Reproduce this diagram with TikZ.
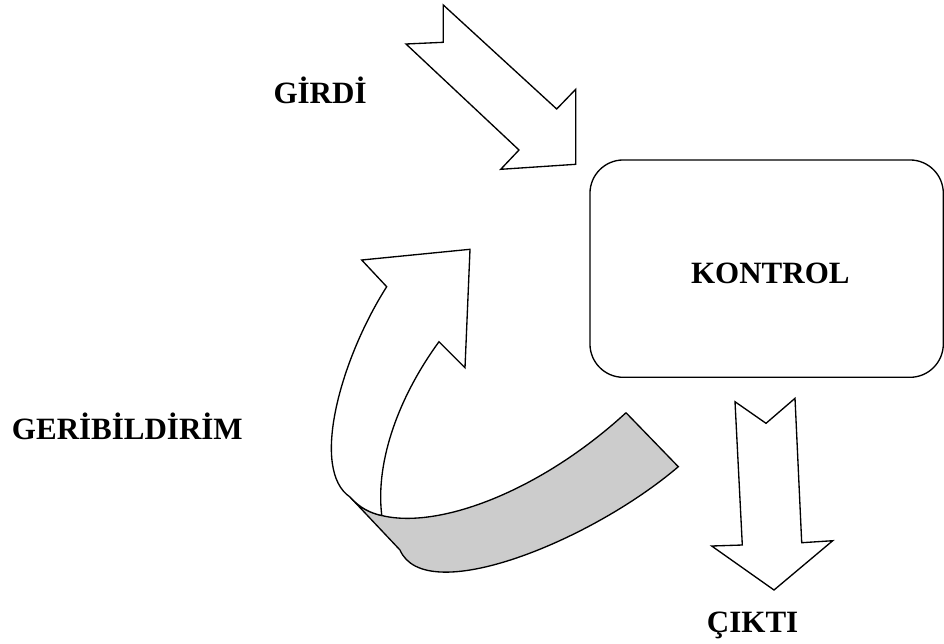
\documentclass[tikz,border=0pt]{standalone}
\usepackage{fontspec}
\setmainfont{Liberation Serif}
\begin{document}
\begin{tikzpicture}[x=0.75pt,y=-0.75pt,
  outline/.style={draw=black,line width=1pt,line join=miter},
  lbl/.style={font=\fontsize{23.25}{28}\selectfont\bfseries,inner sep=0pt},
  band/.style={outline,fill=black!20}]
\useasboundingbox (0,0) rectangle (944,643);

% control block
\node[outline,rounded corners=25pt,minimum width=265pt,minimum height=163pt,inner sep=0pt,anchor=north west]
  (kontrol) at (589.3,159.3) {};
\node[lbl,anchor=base] (kontroltxt) at (770.3,283.3) {KONTROL};

% input arrow
\draw[outline] (443.3,5) -- (443.3,42.3) -- (406,44) -- (519,150) -- (500.7,169.3)
  -- (575.7,164.3) -- (575.7,89.3) -- (556.7,109) -- cycle;
\node[lbl,anchor=base west] (girdi) at (273.3,103.3) {GİRDİ};

% output arrow
\draw[outline] (735,401.7) -- (766,423.3) -- (795,398.3) -- (801.7,542.7) -- (832.7,540.7)
  -- (774,590) -- (711.7,546) -- (742.3,545) -- cycle;
\node[lbl,anchor=base west] (cikti) at (706.7,632.7) {ÇIKTI};

% feedback arrow: shaded back of the band
\draw[band] (626,412.7) -- (678.3,466.7)
  .. controls (590,542) and (425,608) .. (400,550)
  -- (350,497)
  .. controls (390,545) and (520,510) .. coordinate[pos=0.19] (joint) (626,412.7);
% feedback arrow: front face with head
\draw[outline,fill=white] (joint)
  .. controls (375,460) and (400,395) .. (439,341.7)
  -- (465,367.7) -- (470,249.3) -- (361.7,260) -- (386.7,286.7)
  .. controls (340,360) and (310,470) .. (350,497)
  .. controls (360,508) and (370,513) .. (joint);
\node[lbl,anchor=base west] (geri) at (11.7,439.3) {GERİBİLDİRİM};
\end{tikzpicture}
\end{document}
